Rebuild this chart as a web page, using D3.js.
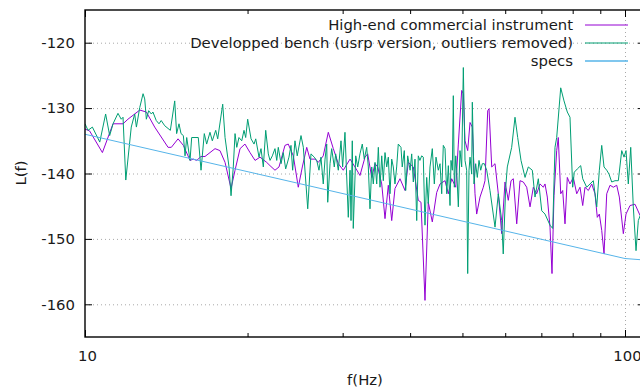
<!DOCTYPE html>
<html lang="en">
<head>
<meta charset="UTF-8">
<title>L(f) comparison</title>
<style>
  body { margin: 0; background: #fff; overflow: hidden; }
  text { font-family: "DejaVu Sans", sans-serif; font-size: 14.85px; fill: #1a1a1a; }
  .grid line { stroke: #a8a8a8; stroke-width: 1; stroke-dasharray: 1,3; }
  .axis line { stroke: #000; stroke-width: 1; }
  .series { fill: none; stroke-width: 1; stroke-linejoin: round; }
</style>
</head>
<body>
<svg width="640" height="388"></svg>
<script src="https://d3js.org/d3.v7.min.js"></script>
<script>
// [frequency (Hz), L(f) (dBc/Hz)]
const hiEnd = [
  [10.00,-133.2],[10.20,-133.5],[10.77,-136.8],[11.27,-132.4],[11.76,-132.4],[12.01,-131.7],[12.63,-130.3],[12.99,-130.6],[13.46,-132.9],[14.25,-136.0],
  [14.45,-136.0],[14.87,-134.7],[15.21,-135.7],[15.65,-138.0],[15.87,-137.8],[16.10,-138.0],[16.40,-137.4],[16.68,-137.4],[17.41,-136.2],[17.78,-136.5],
  [18.17,-138.3],[18.64,-142.3],[18.96,-139.5],[19.37,-136.2],[19.78,-135.5],[20.21,-136.8],[20.65,-138.0],[21.09,-137.5],[21.70,-138.3],[22.01,-138.8],
  [22.48,-139.5],[22.87,-139.0],[23.46,-135.7],[23.79,-135.5],[24.31,-137.3],[24.83,-142.1],[25.26,-139.0],[25.74,-136.0],[26.10,-137.8],[26.66,-137.8],
  [27.04,-138.3],[27.62,-137.3],[28.22,-133.7],[28.83,-136.2],[29.45,-138.5],[30.08,-139.5],[30.96,-137.8],[31.62,-139.0],[32.30,-140.3],[33.00,-137.5],
  [33.38,-137.0],[33.96,-140.6],[34.44,-138.5],[34.84,-139.0],[35.44,-141.6],[35.94,-146.9],[36.45,-141.8],[36.98,-147.2],[37.50,-142.3],[38.31,-140.8],
  [39.14,-142.6],[39.69,-138.3],[40.55,-139.0],[41.42,-144.1],[41.90,-144.4],[42.62,-159.4],[43.22,-144.4],[43.97,-147.4],[44.80,-142.9],[45.44,-141.6],
  [46.42,-141.1],[47.08,-143.1],[47.76,-140.8],[48.59,-142.1],[49.13,-135.5],[49.84,-127.3],[50.19,-127.8],[50.55,-135.0],[51.13,-136.5],[51.64,-132.2],
  [52.15,-132.9],[52.75,-143.1],[53.13,-146.2],[53.89,-143.6],[54.65,-142.1],[55.05,-141.1],[55.69,-130.4],[56.00,-130.1],[56.65,-139.0],[57.45,-138.5],
  [58.26,-143.1],[59.11,-149.2],[59.95,-141.3],[60.80,-144.1],[61.51,-141.1],[62.11,-140.8],[63.02,-147.7],[63.91,-141.1],[64.82,-141.3],[65.76,-142.1],
  [66.70,-145.1],[67.64,-142.1],[68.62,-143.1],[69.60,-141.6],[70.59,-142.1],[71.10,-141.6],[71.80,-143.6],[72.63,-148.2],[73.25,-155.3],[73.88,-143.4],
  [74.73,-136.5],[75.24,-134.5],[76.02,-143.1],[76.67,-142.6],[77.43,-147.7],[78.19,-140.6],[79.09,-141.6],[80.22,-140.6],[81.39,-143.1],[82.54,-142.1],
  [83.50,-144.9],[84.32,-142.1],[85.52,-142.6],[86.77,-141.6],[87.99,-143.1],[88.86,-146.7],[89.63,-146.2],[90.55,-148.7],[91.44,-152.3],[92.50,-143.1],
  [93.81,-141.8],[95.14,-142.1],[96.53,-141.8],[97.61,-143.6],[99.29,-149.2],[100.43,-146.2],[102.16,-144.9],[104.36,-144.7],[106.61,-146.4]
];

const bench = [
  [10.00,-132.4],[10.13,-133.4],[10.32,-132.9],[10.65,-135.2],[10.92,-130.9],[11.11,-134.2],[11.27,-132.4],[11.51,-130.8],[11.67,-131.7],[11.76,-131.4],
  [11.90,-141.0],[12.18,-132.9],[12.36,-130.9],[12.45,-132.9],[12.63,-129.9],[12.81,-127.8],[12.90,-128.6],[12.99,-131.7],[13.12,-130.4],[13.27,-130.9],
  [13.36,-130.6],[13.55,-131.9],[13.71,-132.4],[13.84,-131.9],[14.05,-132.7],[14.39,-133.4],[14.66,-128.9],[14.78,-133.9],[14.93,-132.4],[15.06,-133.9],
  [15.21,-134.2],[15.32,-137.3],[15.43,-134.5],[15.65,-138.0],[15.76,-134.5],[16.21,-134.5],[16.40,-139.5],[16.63,-133.9],[16.80,-135.5],[17.04,-133.7],
  [17.21,-135.0],[17.46,-133.4],[17.61,-134.7],[17.99,-129.4],[18.17,-134.5],[18.48,-139.0],[18.64,-143.4],[18.82,-139.0],[18.96,-133.9],[19.10,-136.0],
  [19.28,-134.5],[19.51,-135.0],[19.70,-133.4],[19.84,-134.5],[20.01,-131.7],[20.30,-134.7],[20.56,-135.5],[20.71,-134.7],[21.00,-137.5],[21.18,-136.2],
  [21.39,-139.0],[21.61,-133.4],[21.85,-137.0],[22.01,-138.0],[22.23,-137.3],[22.48,-136.2],[22.65,-138.0],[22.80,-136.0],[23.07,-138.5],[23.29,-136.8],
  [23.53,-139.3],[23.86,-137.5],[24.07,-135.7],[24.24,-139.5],[24.48,-135.0],[24.72,-137.3],[25.12,-134.2],[25.37,-136.0],[25.85,-145.4],[26.21,-137.0],
  [26.58,-137.5],[26.86,-138.0],[27.12,-139.5],[27.35,-137.5],[27.62,-141.6],[27.83,-137.8],[28.03,-135.5],[28.15,-144.4],[28.43,-138.5],[28.63,-136.2],
  [28.95,-139.0],[29.12,-137.0],[29.45,-139.5],[29.79,-135.0],[30.00,-139.0],[30.30,-133.7],[30.73,-146.7],[30.96,-139.5],[31.09,-147.2],[31.26,-135.0],
  [31.39,-148.4],[31.72,-137.3],[31.99,-139.0],[32.30,-137.0],[32.62,-135.5],[32.90,-137.8],[33.24,-136.0],[33.47,-139.0],[33.71,-145.4],[33.96,-139.0],
  [34.19,-141.6],[34.44,-138.3],[34.69,-141.6],[34.93,-136.0],[35.18,-142.1],[35.44,-137.3],[35.68,-141.1],[35.94,-136.8],[36.20,-139.0],[36.45,-137.5],
  [36.71,-143.1],[36.98,-137.8],[37.23,-139.0],[37.50,-141.6],[37.77,-139.0],[38.03,-135.5],[38.47,-136.0],[38.68,-139.0],[39.02,-136.5],[39.25,-142.6],
  [39.59,-137.3],[40.00,-139.5],[40.27,-137.0],[40.55,-141.3],[40.84,-137.8],[41.14,-147.2],[41.42,-137.3],[41.71,-138.0],[42.02,-137.3],[42.31,-137.5],
  [42.62,-147.9],[42.93,-140.6],[43.22,-144.6],[43.54,-139.0],[43.97,-136.2],[44.35,-141.6],[44.67,-137.5],[45.11,-139.5],[45.44,-138.5],[45.77,-143.1],
  [46.08,-135.7],[46.42,-136.2],[46.76,-143.1],[47.08,-138.8],[47.42,-144.9],[47.62,-138.0],[47.89,-139.5],[48.09,-128.1],[48.30,-142.1],[48.59,-137.3],
  [48.79,-139.5],[49.13,-145.1],[49.48,-136.5],[49.84,-139.0],[50.19,-123.8],[50.55,-138.0],[50.91,-139.5],[51.13,-155.3],[51.42,-139.5],[51.64,-137.5],
  [52.01,-140.1],[52.15,-129.1],[52.53,-141.6],[52.90,-138.5],[53.27,-140.6],[53.66,-138.0],[54.05,-139.5],[54.42,-138.5],[54.89,-138.5],[55.45,-139.5],
  [56.23,-142.6],[57.45,-148.2],[58.26,-143.1],[59.11,-147.2],[59.50,-152.3],[60.13,-142.1],[60.54,-139.0],[61.68,-136.0],[62.56,-131.4],[63.28,-134.5],
  [64.18,-138.0],[65.30,-140.6],[66.21,-139.0],[67.35,-139.5],[68.13,-143.6],[69.10,-140.8],[70.11,-145.7],[71.10,-146.2],[72.63,-147.9],[73.47,-148.4],
  [74.19,-136.0],[74.73,-134.5],[76.02,-126.9],[77.10,-128.9],[78.19,-130.6],[79.09,-131.4],[80.00,-142.1],[80.55,-139.8],[81.60,-139.3],[82.79,-138.8],
  [83.50,-140.8],[84.93,-142.1],[86.14,-141.6],[87.36,-141.1],[88.64,-145.1],[89.63,-139.5],[90.55,-135.7],[91.44,-139.0],[92.50,-139.5],[93.41,-140.1],
  [94.49,-141.3],[95.83,-141.1],[97.19,-141.1],[98.61,-136.5],[99.58,-137.5],[100.43,-136.5],[101.42,-141.6],[102.47,-136.0],[103.60,-145.1],[104.81,-151.8],
  [105.84,-147.2],[107.50,-145.7]
];

const specs = [[10,-134.0],[100,-153.0],[120,-153.5]];

const yTicks = [-160, -150, -140, -130, -120];
const xMajor = [10, 100];
const xMinor = [20, 30, 40, 50, 60, 70, 80, 90];
const names = ["High-end commercial instrument", "Developped bench (usrp version, outliers removed)", "specs"];
const colors = ["#9400d3", "#009e73", "#56b4e9"];

const svg = d3.select("svg");
const m = {left: 85, right: 645, top: 10, bottom: 337};

const x = d3.scaleLog().domain([10, 108.9]).range([m.left, m.right]);
const y = d3.scaleLinear().domain([-165, -115]).range([m.bottom, m.top]);

// grid
svg.append("g").attr("class", "grid")
    .attr("transform", "translate(" + m.left + ",0)")
    .call(d3.axisLeft(y).tickValues(yTicks).tickSize(-(m.right - m.left)).tickFormat(""))
    .call(g => g.select(".domain").remove());
svg.append("g").attr("class", "grid")
    .attr("transform", "translate(0," + m.bottom + ")")
    .call(d3.axisBottom(x).tickValues([100]).tickSize(-(m.bottom - m.top)).tickFormat(""))
    .call(g => g.select(".domain").remove());

// data
svg.append("clipPath").attr("id", "clip")
  .append("rect")
    .attr("x", m.left).attr("y", m.top)
    .attr("width", m.right - m.left).attr("height", m.bottom - m.top);

const line = d3.line()
    .x(d => x(d[0]))
    .y(d => y(d[1]));

const plot = svg.append("g").attr("clip-path", "url(#clip)");
[hiEnd, bench, specs].forEach(function(s, i) {
    plot.append("path")
        .datum(s)
        .attr("class", "series")
        .attr("stroke", colors[i])
        .attr("d", line);
});

// axes (gnuplot style: ticks inward, mirrored)
const fmt = d => String(d);

function axis(gen, tx, ty) {
    return svg.append("g").attr("class", "axis")
        .attr("transform", "translate(" + tx + "," + ty + ")")
        .call(gen)
        .call(g => g.select(".domain").remove());
}

axis(d3.axisLeft(y).tickValues(yTicks).tickSize(-7).tickPadding(10).tickFormat(fmt), m.left, 0);
axis(d3.axisRight(y).tickValues(yTicks).tickSize(-7).tickFormat(""), m.right, 0);
axis(d3.axisBottom(x).tickValues(xMajor).tickSize(-7).tickPadding(13).tickFormat(fmt), 0, m.bottom)
    .selectAll("text").attr("dx", 2);
axis(d3.axisBottom(x).tickValues(xMinor).tickSize(-4).tickFormat(""), 0, m.bottom);
axis(d3.axisTop(x).tickValues(xMajor).tickSize(-7).tickFormat(""), 0, m.top);
axis(d3.axisTop(x).tickValues(xMinor).tickSize(-4).tickFormat(""), 0, m.top);

svg.append("rect")
    .attr("x", m.left).attr("y", m.top)
    .attr("width", m.right - m.left).attr("height", m.bottom - m.top)
    .attr("fill", "none")
    .attr("stroke", "#000")
    .attr("stroke-width", 1.4);

// axis titles
svg.append("text")
    .attr("transform", "translate(26,173) rotate(-90)")
    .attr("text-anchor", "middle")
    .text("L(f)");
svg.append("text")
    .attr("x", 365).attr("y", 385)
    .attr("text-anchor", "middle")
    .text("f(Hz)");

// key
const key = svg.append("g").selectAll("g")
    .data(names)
    .enter().append("g")
    .attr("transform", (d, i) => "translate(0," + (25 + i * 18) + ")");

key.append("text")
    .attr("x", 573).attr("y", 5)
    .attr("text-anchor", "end")
    .text(d => d);

key.append("line")
    .attr("x1", 585).attr("x2", 628)
    .attr("stroke", (d, i) => colors[i])
    .attr("stroke-width", (d, i) => i == 2 ? 1.5 : 1);
</script>
</body>
</html>
